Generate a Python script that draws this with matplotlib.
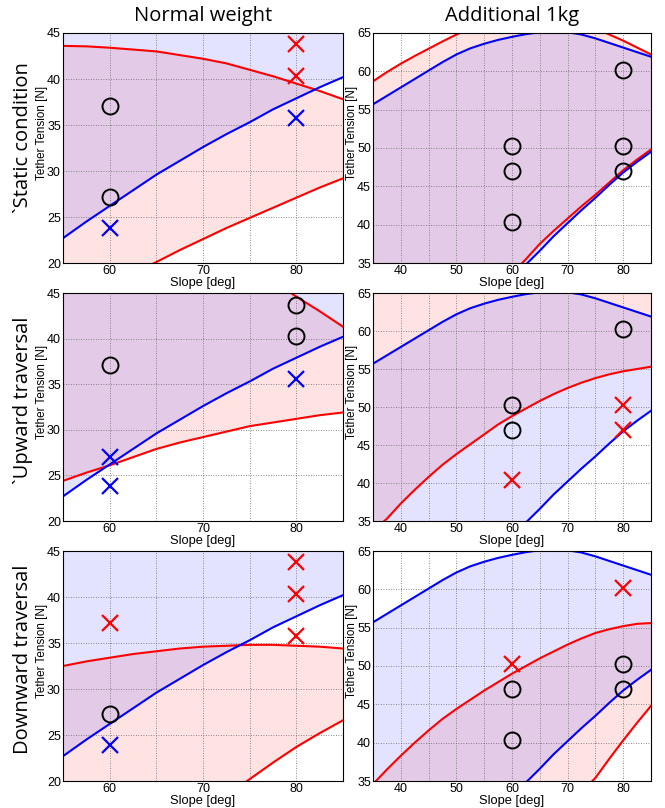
import matplotlib.pyplot as plt
from matplotlib.ticker import MultipleLocator

# slope grids (deg)
SLOPE_NW = [55, 57.5, 60, 62.5, 65, 67.5, 70, 72.5, 75, 77.5, 80, 82.5, 85]
SLOPE_AK = [35, 37.5, 40, 42.5, 45, 47.5, 50, 52.5, 55, 57.5, 60, 62.5, 65,
            67.5, 70, 72.5, 75, 77.5, 80, 82.5, 85]

# normal weight: blue bound (same for all rows), red bounds per row
NW_BLUE = [22.7, 24.5, 26.2, 27.9, 29.6, 31.1, 32.6, 34.0, 35.3, 36.7, 37.9, 39.1, 40.2]
NW_STATIC_RED_HI = [43.6, 43.55, 43.4, 43.2, 43.0, 42.6, 42.2, 41.7, 41.0, 40.3, 39.5, 38.7, 37.8]
NW_STATIC_RED_LO = [15.0, 16.3, 17.6, 18.9, 20.1, 21.4, 22.6, 23.8, 24.9, 26.0, 27.1, 28.2, 29.2]
NW_UP_RED_HI = [55.0, 54.4, 53.7, 53.0, 52.2, 51.3, 50.4, 49.3, 48.0, 46.3, 44.6, 43.0, 41.3]
NW_UP_RED_LO = [24.4, 25.3, 26.1, 27.0, 27.9, 28.6, 29.2, 29.8, 30.4, 30.8, 31.2, 31.6, 31.9]
NW_DOWN_RED_HI = [32.5, 33.0, 33.4, 33.8, 34.1, 34.4, 34.6, 34.7, 34.8, 34.8, 34.7, 34.6, 34.4]
NW_DOWN_RED_LO = [5.8, 7.6, 9.4, 11.2, 13.0, 14.8, 16.6, 18.4, 20.2, 22.0, 23.7, 25.2, 26.6]

# additional 1kg: blue band (same for all rows), red bounds per row
AK_BLUE_HI = [55.7, 56.8, 57.9, 59.0, 60.1, 61.2, 62.2, 63.0, 63.6, 64.1, 64.5, 64.85, 65.1,
              65.2, 65.1, 64.8, 64.3, 63.7, 63.1, 62.5, 61.9]
AK_BLUE_LO = [9.0, 11.8, 14.5, 17.1, 19.6, 22.0, 24.3, 26.6, 28.8, 30.9, 32.9, 34.8, 36.6,
              38.5, 40.2, 41.9, 43.5, 45.2, 46.8, 48.2, 49.5]
AK_STATIC_RED_HI = [58.7, 59.9, 61.0, 62.0, 62.95, 63.9, 64.8, 65.6, 66.3, 66.8, 67.2, 67.5, 67.6,
                    67.6, 67.3, 66.7, 65.6, 64.8, 64.0, 63.1, 62.2]
AK_STATIC_RED_LO = [9.8, 12.5, 15.2, 17.8, 20.3, 22.7, 25.0, 27.3, 29.5, 31.6, 33.6, 35.5, 37.5,
                    39.2, 40.8, 42.4, 43.9, 45.5, 47.1, 48.5, 49.8]
AK_UP_RED_LO = [33.7, 35.3, 37.3, 39.1, 40.8, 42.4, 43.8, 45.1, 46.4, 47.7, 48.8, 49.8, 50.8,
                51.7, 52.5, 53.2, 53.8, 54.3, 54.7, 55.0, 55.3]
AK_DOWN_RED_HI = [34.6, 36.5, 38.3, 40.0, 41.6, 43.1, 44.4, 45.6, 46.8, 47.9, 49.0, 50.0, 51.0,
                  51.9, 52.8, 53.6, 54.3, 54.8, 55.2, 55.5, 55.6]
AK_DOWN_RED_LO = [-7.0, -3.5, -0.2, 3.0, 6.1, 9.1, 12.0, 14.8, 17.5, 20.1, 22.6, 25.0, 27.3,
                  29.5, 31.6, 33.6, 35.4, 37.9, 40.3, 42.6, 44.8]

# measured points: circles, red crosses, blue crosses
NW_STATIC_O_X, NW_STATIC_O_Y = [60, 60], [37.1, 27.2]
NW_STATIC_RX_X, NW_STATIC_RX_Y = [80, 80], [43.8, 40.3]
NW_STATIC_BX_X, NW_STATIC_BX_Y = [60, 80], [23.8, 35.8]
NW_UP_O_X, NW_UP_O_Y = [60, 80, 80], [37.1, 43.7, 40.3]
NW_UP_RX_X, NW_UP_RX_Y = [], []
NW_UP_BX_X, NW_UP_BX_Y = [60, 60, 80], [27.0, 23.8, 35.6]
NW_DOWN_O_X, NW_DOWN_O_Y = [60], [27.3]
NW_DOWN_RX_X, NW_DOWN_RX_Y = [60, 80, 80, 80], [37.2, 43.8, 40.3, 35.8]
NW_DOWN_BX_X, NW_DOWN_BX_Y = [60], [23.9]

AK_STATIC_O_X, AK_STATIC_O_Y = [60, 60, 60, 80, 80, 80], [50.3, 47.0, 40.3, 60.2, 50.3, 47.0]
AK_STATIC_RX_X, AK_STATIC_RX_Y = [], []
AK_UP_O_X, AK_UP_O_Y = [80, 60, 60], [60.2, 50.2, 47.0]
AK_UP_RX_X, AK_UP_RX_Y = [60, 80, 80], [40.4, 50.2, 47.0]
AK_DOWN_O_X, AK_DOWN_O_Y = [60, 60, 80, 80], [47.0, 40.3, 50.2, 47.0]
AK_DOWN_RX_X, AK_DOWN_RX_Y = [80, 60], [60.2, 50.3]

ROW_LABELS = ["`Static condition", "`Upward traversal", "Downward traversal"]
COL_TITLES = ["Normal weight", "Additional 1kg"]

RED = "#ff0000"
BLUE = "#0000ff"
TICK_FONT = "Liberation Sans"
TITLE_FONT = "Open Sans"


def draw_panel(ax, xs, blue_lo, blue_hi, red_lo, red_hi, marks, xlim, ylim, xmajor):
    ax.set_xlim(*xlim)
    ax.set_ylim(*ylim)
    y0, y1 = ylim
    rlo = red_lo if red_lo is not None else [y0] * len(xs)
    rhi = red_hi if red_hi is not None else [y1] * len(xs)
    blo = blue_lo if blue_lo is not None else [y0] * len(xs)
    bhi = blue_hi if blue_hi is not None else [y1] * len(xs)
    ax.fill_between(xs, rlo, rhi, where=[a < b for a, b in zip(rlo, rhi)],
                    color=RED, alpha=0.11, lw=0, zorder=0.5)
    ax.fill_between(xs, blo, bhi, where=[a < b for a, b in zip(blo, bhi)],
                    color=BLUE, alpha=0.11, lw=0, zorder=0.6)
    for curve, col in ((red_lo, RED), (red_hi, RED), (blue_lo, BLUE), (blue_hi, BLUE)):
        if curve is not None:
            ax.plot(xs, curve, color=col, lw=1.5, zorder=2)
    (ox, oy), (rx, ry), (bx, by) = marks
    ax.plot(ox, oy, ls="none", marker="o", ms=11.5, mfc="none", mec="black", mew=1.4, zorder=3)
    ax.plot(rx, ry, ls="none", marker="x", ms=11, mec=RED, mew=1.6, zorder=3)
    ax.plot(bx, by, ls="none", marker="x", ms=11, mec=BLUE, mew=1.6, zorder=3)

    ax.xaxis.set_major_locator(MultipleLocator(xmajor))
    ax.xaxis.set_minor_locator(MultipleLocator(5))
    ax.yaxis.set_major_locator(MultipleLocator(5))
    ax.grid(True, which="both", color="0.4", lw=0.6, ls=(0, (1, 2)))
    ax.tick_params(which="both", length=0, labelsize=9, pad=1.5)
    for lab in ax.get_xticklabels() + ax.get_yticklabels():
        lab.set_fontfamily(TICK_FONT)
    for sp in ax.spines.values():
        sp.set_color("black")
        sp.set_linewidth(0.8)
    ax.set_xlabel("Slope [deg]", fontsize=9.3, family=TICK_FONT, labelpad=0)
    ax.set_ylabel("Tether Tension [N]", fontsize=8.4, family=TICK_FONT)
    ax.yaxis.set_label_coords(-0.055, 0.565)


def main() -> None:
    fig = plt.figure(figsize=(6.65, 8.08), dpi=100)
    W, H = 665, 808
    col_px = [(63, 343), (373, 651)]
    row_px = [(33, 263), (293, 521), (551, 781)]

    nw_red = [(NW_STATIC_RED_LO, NW_STATIC_RED_HI),
              (NW_UP_RED_LO, NW_UP_RED_HI),
              (NW_DOWN_RED_LO, NW_DOWN_RED_HI)]
    ak_red = [(AK_STATIC_RED_LO, AK_STATIC_RED_HI),
              (AK_UP_RED_LO, None),
              (AK_DOWN_RED_LO, AK_DOWN_RED_HI)]
    nw_marks = [
        ((NW_STATIC_O_X, NW_STATIC_O_Y), (NW_STATIC_RX_X, NW_STATIC_RX_Y), (NW_STATIC_BX_X, NW_STATIC_BX_Y)),
        ((NW_UP_O_X, NW_UP_O_Y), (NW_UP_RX_X, NW_UP_RX_Y), (NW_UP_BX_X, NW_UP_BX_Y)),
        ((NW_DOWN_O_X, NW_DOWN_O_Y), (NW_DOWN_RX_X, NW_DOWN_RX_Y), (NW_DOWN_BX_X, NW_DOWN_BX_Y)),
    ]
    ak_marks = [
        ((AK_STATIC_O_X, AK_STATIC_O_Y), (AK_STATIC_RX_X, AK_STATIC_RX_Y), ([], [])),
        ((AK_UP_O_X, AK_UP_O_Y), (AK_UP_RX_X, AK_UP_RX_Y), ([], [])),
        ((AK_DOWN_O_X, AK_DOWN_O_Y), (AK_DOWN_RX_X, AK_DOWN_RX_Y), ([], [])),
    ]

    for r, (top, bot) in enumerate(row_px):
        for c, (left, right) in enumerate(col_px):
            ax = fig.add_axes([left / W, 1 - bot / H, (right - left) / W, (bot - top) / H])
            if c == 0:
                draw_panel(ax, SLOPE_NW, NW_BLUE, None, nw_red[r][0], nw_red[r][1],
                           nw_marks[r], (55, 85), (20, 45), 10)
            else:
                draw_panel(ax, SLOPE_AK, AK_BLUE_LO, AK_BLUE_HI, ak_red[r][0], ak_red[r][1],
                           ak_marks[r], (35, 85), (35, 65), 10)

    for c, title in enumerate(COL_TITLES):
        left, right = col_px[c]
        fig.text((left + right) / 2 / W, 1 - 16 / H, title, ha="center", va="center",
                 fontsize=14.5, family=TITLE_FONT)
    for r, label in enumerate(ROW_LABELS):
        yc = [138, 400, 659][r]
        fig.text(23 / W, 1 - yc / H, label, ha="center", va="center", rotation=90,
                 fontsize=14.5, family=TITLE_FONT)

    fig.savefig("out.png", dpi=100)


if __name__ == "__main__":
    main()
